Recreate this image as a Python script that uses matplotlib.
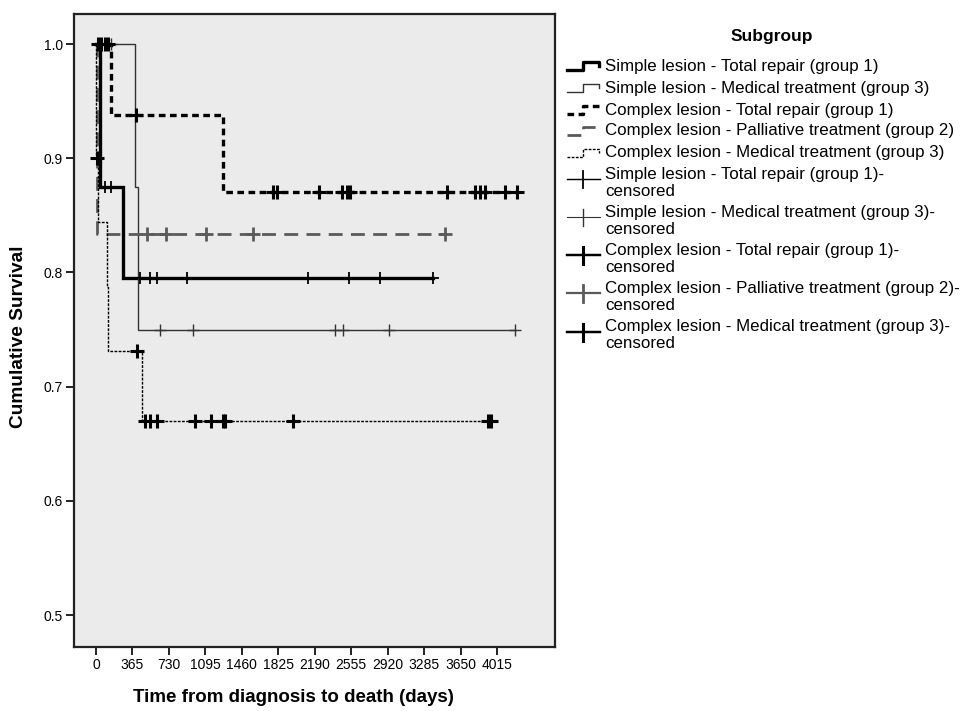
import matplotlib
matplotlib.use("Agg")
import matplotlib.pyplot as plt
from matplotlib.lines import Line2D

plt.rcParams['font.family'] = ['Liberation Sans', 'DejaVu Sans']
plt.rcParams['lines.scale_dashes'] = False

# ---------------- data ----------------
# Simple lesion - Total repair (group 1)
s1_times = [0, 40, 270, 3373]
s1_surv = [1.0, 0.875, 0.7955, 0.7955]
s1_cens_t = [90, 150, 440, 540, 611, 911, 2122, 2533, 2843, 3373]
s1_cens_s = [0.875, 0.875, 0.7955, 0.7955, 0.7955, 0.7955, 0.7955, 0.7955, 0.7955, 0.7955]

# Simple lesion - Medical treatment (group 3)
s3_times = [0, 390, 420, 4194]
s3_surv = [1.0, 0.875, 0.75, 0.75]
s3_cens_t = [150, 641, 971, 2392, 2472, 2933, 4194]
s3_cens_s = [1.0, 0.75, 0.75, 0.75, 0.75, 0.75, 0.75]

# Complex lesion - Total repair (group 1)
c1_times = [0, 147, 1271, 4214]
c1_surv = [1.0, 0.9375, 0.8705, 0.8705]
c1_cens_t = [20, 50, 90, 120, 400, 1772, 1812, 2232, 2462, 2513, 2543,
             3514, 3794, 3844, 3894, 4094, 4214]
c1_cens_s = [1.0, 1.0, 1.0, 1.0, 0.9375] + [0.8705] * 12

# Complex lesion - Palliative treatment (group 2)
c2_times = [0, 10, 3493]
c2_surv = [1.0, 0.8333, 0.8333]
c2_cens_t = [511, 701, 1101, 1572, 3493]
c2_cens_s = [0.8333] * 5

# Complex lesion - Medical treatment (group 3)
c3_times = [0, 2, 20, 110, 125, 460, 3954]
c3_surv = [1.0, 0.9, 0.84375, 0.7875, 0.73125, 0.6703, 0.6703]
c3_cens_t = [10, 410, 490, 540, 611, 991, 1151, 1271, 1291, 1972, 3924, 3954]
c3_cens_s = [0.9, 0.73125] + [0.6703] * 10

group_labels = [
    "Simple lesion - Total repair (group 1)",
    "Simple lesion - Medical treatment (group 3)",
    "Complex lesion - Total repair (group 1)",
    "Complex lesion - Palliative treatment (group 2)",
    "Complex lesion - Medical treatment (group 3)",
]
x_ticks = [0, 365, 730, 1095, 1460, 1825, 2190, 2555, 2920, 3285, 3650, 4015]
y_ticks = [0.5, 0.6, 0.7, 0.8, 0.9, 1.0]

# ---------------- styles ----------------
line_styles = [
    dict(color='black', lw=2.4, ls='-'),
    dict(color='#333333', lw=1.0, ls='-'),
    dict(color='black', lw=2.4, ls=(0, (4.8, 3.2))),
    dict(color='#5a5a5a', lw=2.0, ls=(0, (10, 6))),
    dict(color='black', lw=1.0, ls=(0, (2.0, 1.0))),
]
cens_styles = [
    dict(color='black', mew=1.3, ms=8),
    dict(color='#333333', mew=1.0, ms=8),
    dict(color='black', mew=2.2, ms=9.5),
    dict(color='#5a5a5a', mew=2.0, ms=9.5),
    dict(color='black', mew=2.2, ms=9.5),
]

W, H = 969, 711
fig = plt.figure(figsize=(W / 100, H / 100), dpi=100)
fig.patch.set_facecolor('white')
L, R, T, B = 74, 555, 14, 647
ax = fig.add_axes([L / W, 1 - B / H, (R - L) / W, (B - T) / H])
ax.set_facecolor('#ebebeb')

series = [
    (s1_times, s1_surv, s1_cens_t, s1_cens_s),
    (s3_times, s3_surv, s3_cens_t, s3_cens_s),
    (c1_times, c1_surv, c1_cens_t, c1_cens_s),
    (c2_times, c2_surv, c2_cens_t, c2_cens_s),
    (c3_times, c3_surv, c3_cens_t, c3_cens_s),
]
for i, (t, s, ct, cs) in enumerate(series):
    st = line_styles[i]
    ax.step(t, s, where='post', color=st['color'], lw=st['lw'], ls=st['ls'],
            solid_joinstyle='miter', zorder=3)
    cst = cens_styles[i]
    ax.plot(ct, cs, ls='none', marker='+', color=cst['color'],
            mew=cst['mew'], ms=cst['ms'], zorder=4)

ax.set_xlim(-220, 4595)
ax.set_ylim(0.472, 1.0263)
ax.set_xticks(x_ticks)
ax.set_xticklabels([str(v) for v in x_ticks], fontsize=10)
ax.set_yticks(y_ticks)
ax.set_yticklabels([f"{v:.1f}" for v in y_ticks], fontsize=10)
ax.tick_params(direction='out', length=6, width=1.4, color='#222222', pad=2)
for sp in ax.spines.values():
    sp.set_linewidth(1.6)
    sp.set_color('#222222')

fig.text(293 / W, 1 - 697 / H, "Time from diagnosis to death (days)",
         ha='center', va='center', fontsize=13.5, fontweight='bold')
fig.text(19 / W, 1 - 337 / H, "Cumulative Survival", rotation=90,
         ha='center', va='center', fontsize=13.8, fontweight='bold')

# ---------------- legend ----------------
lg = fig.add_axes([0, 0, 1, 1], facecolor='none')
lg.set_xlim(0, W)
lg.set_ylim(H, 0)
lg.axis('off')
lg.text(772, 36, "Subgroup", ha='center', va='center', fontsize=12.5,
        fontweight='bold')
fs_leg = 12.2
ys = [66, 88, 110, 131, 153]
for i, y in enumerate(ys):
    st = line_styles[i]
    lg.add_line(Line2D([567, 583, 583, 599, 599], [y + 4, y + 4, y - 4, y - 4, y],
                       color=st['color'], lw=st['lw'], ls=st['ls']))
    lg.text(605, y, group_labels[i], ha='left', va='center', fontsize=fs_leg)
ys2 = [174, 212, 250, 288, 327]
for i, y in enumerate(ys2):
    cst = cens_styles[i]
    lg.add_line(Line2D([567, 600], [y + 5, y + 5], color=cst['color'],
                       lw=cst['mew'] * 0.8))
    lg.add_line(Line2D([583, 583], [y - 3, y + 14], color=cst['color'],
                       lw=cst['mew']))
    lg.text(605, y, group_labels[i] + "-", ha='left', va='center', fontsize=fs_leg)
    lg.text(605, y + 17, "censored", ha='left', va='center', fontsize=fs_leg)

fig.savefig("out.png", dpi=100)
